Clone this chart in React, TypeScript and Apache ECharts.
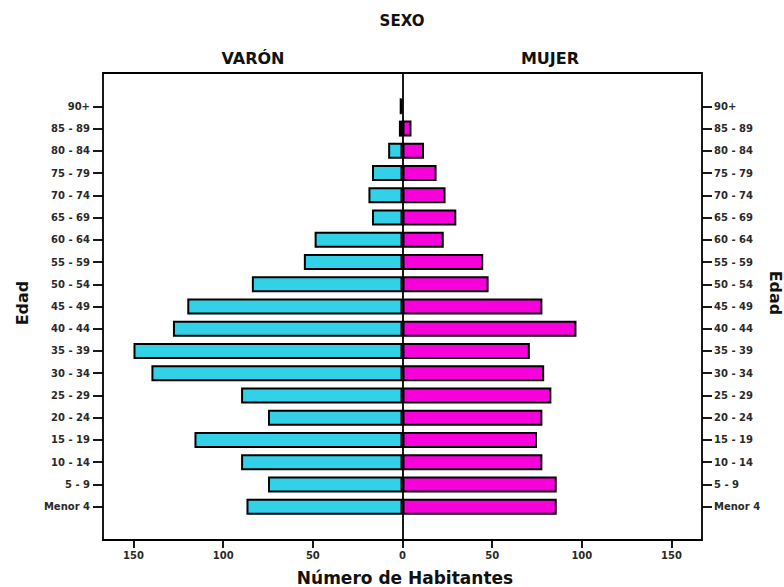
import React, { useEffect, useRef } from "react";
import * as echarts from "echarts";

const ageGroups = [
  "Menor 4", "5 - 9", "10 - 14", "15 - 19", "20 - 24", "25 - 29", "30 - 34",
  "35 - 39", "40 - 44", "45 - 49", "50 - 54", "55 - 59", "60 - 64", "65 - 69",
  "70 - 74", "75 - 79", "80 - 84", "85 - 89", "90+",
];
const varon = [87, 75, 90, 116, 75, 90, 140, 150, 128, 120, 84, 55, 49, 17, 19, 17, 8, 2, 1];
const mujer = [86, 86, 78, 75, 78, 83, 79, 71, 97, 78, 48, 45, 23, 30, 24, 19, 12, 5, 0];
const xTicks = [-150, -100, -50, 0, 50, 100, 150];

const FONT = "DejaVu Sans, Verdana, sans-serif";

export default function App() {
  const ref = useRef<HTMLDivElement>(null);
  useEffect(() => {
    if (!ref.current) return;
    const chart = echarts.init(ref.current, null, { renderer: "svg" });
    const cats = ["", ...ageGroups, ""];
    const maleData = [null, ...varon.map((v) => -v), null];
    const femaleData = [null, ...mujer, null];
    const yAxisCommon = {
      type: "category" as const,
      data: cats,
      boundaryGap: true,
      axisLine: { show: false, onZero: false },
      axisTick: {
        show: true,
        alignWithLabel: true,
        length: 10,
        interval: (_i: number, v: string) => v !== "",
        lineStyle: { color: "#000", width: 1.8 },
      },
      splitLine: { show: false },
    };
    const labelStyle = {
      interval: 0,
      fontFamily: FONT,
      fontSize: 10,
      fontWeight: "bold" as const,
      color: "#2a2a2a",
    };
    chart.setOption({
      animation: false,
      backgroundColor: "#fff",
      grid: {
        left: 103,
        right: 82,
        top: 73,
        bottom: 47,
        show: true,
        borderColor: "#000",
        borderWidth: 1.8,
        backgroundColor: "transparent",
      },
      graphic: [
        { type: "text", x: 402, y: 21, style: { text: "SEXO", fontFamily: FONT, fontSize: 15, fontWeight: "bold", fill: "#111", align: "center", verticalAlign: "middle" } },
        { type: "text", x: 253, y: 58, style: { text: "VARÓN", fontFamily: FONT, fontSize: 16, fontWeight: "bold", fill: "#111", align: "center", verticalAlign: "middle" } },
        { type: "text", x: 550, y: 58, style: { text: "MUJER", fontFamily: FONT, fontSize: 16, fontWeight: "bold", fill: "#111", align: "center", verticalAlign: "middle" } },
        { type: "text", x: 22, y: 303, rotation: Math.PI / 2, style: { text: "Edad", fontFamily: FONT, fontSize: 16, fontWeight: "bold", fill: "#111", align: "center", verticalAlign: "middle" } },
        { type: "text", x: 775, y: 293, rotation: -Math.PI / 2, style: { text: "Edad", fontFamily: FONT, fontSize: 16, fontWeight: "bold", fill: "#111", align: "center", verticalAlign: "middle" } },
        { type: "text", x: 405, y: 586, style: { text: "Número de Habitantes", fontFamily: FONT, fontSize: 17, fontWeight: "bold", fill: "#111", align: "center", verticalAlign: "bottom" } },
      ],
      xAxis: {
        type: "value",
        min: -167,
        max: 167,
        axisLine: { show: false, onZero: false },
        axisTick: {
          show: true,
          length: 8,
          customValues: xTicks,
          lineStyle: { color: "#000", width: 1.8 },
        },
        axisLabel: {
          customValues: xTicks,
          formatter: (v: number) => String(Math.abs(v)),
          fontFamily: FONT,
          fontSize: 10,
          fontWeight: "bold",
          color: "#2a2a2a",
          margin: 10,
        },
        splitLine: { show: false },
      },
      yAxis: [
        { ...yAxisCommon, position: "left", axisLabel: { ...labelStyle, margin: 13 } },
        { ...yAxisCommon, position: "right", axisLabel: { ...labelStyle, margin: 12 } },
      ],
      series: [
        {
          name: "VARÓN",
          type: "bar",
          stack: "total",
          yAxisIndex: 0,
          data: maleData,
          barCategoryGap: "28%",
          itemStyle: { color: "#33D1E8", borderColor: "#000", borderWidth: 2 },
          markLine: {
            silent: true,
            symbol: "none",
            label: { show: false },
            lineStyle: { color: "#000", width: 1.8, type: "solid" },
            data: [{ xAxis: 0 }],
          },
        },
        {
          name: "MUJER",
          type: "bar",
          stack: "total",
          yAxisIndex: 0,
          data: femaleData,
          barCategoryGap: "28%",
          itemStyle: { color: "#F700DC", borderColor: "#000", borderWidth: 2 },
        },
      ],
    });
    return () => chart.dispose();
  }, []);
  return (
    <div
      ref={ref}
      style={{ position: "fixed", left: 0, top: 0, width: 784, height: 587 }}
    />
  );
}
